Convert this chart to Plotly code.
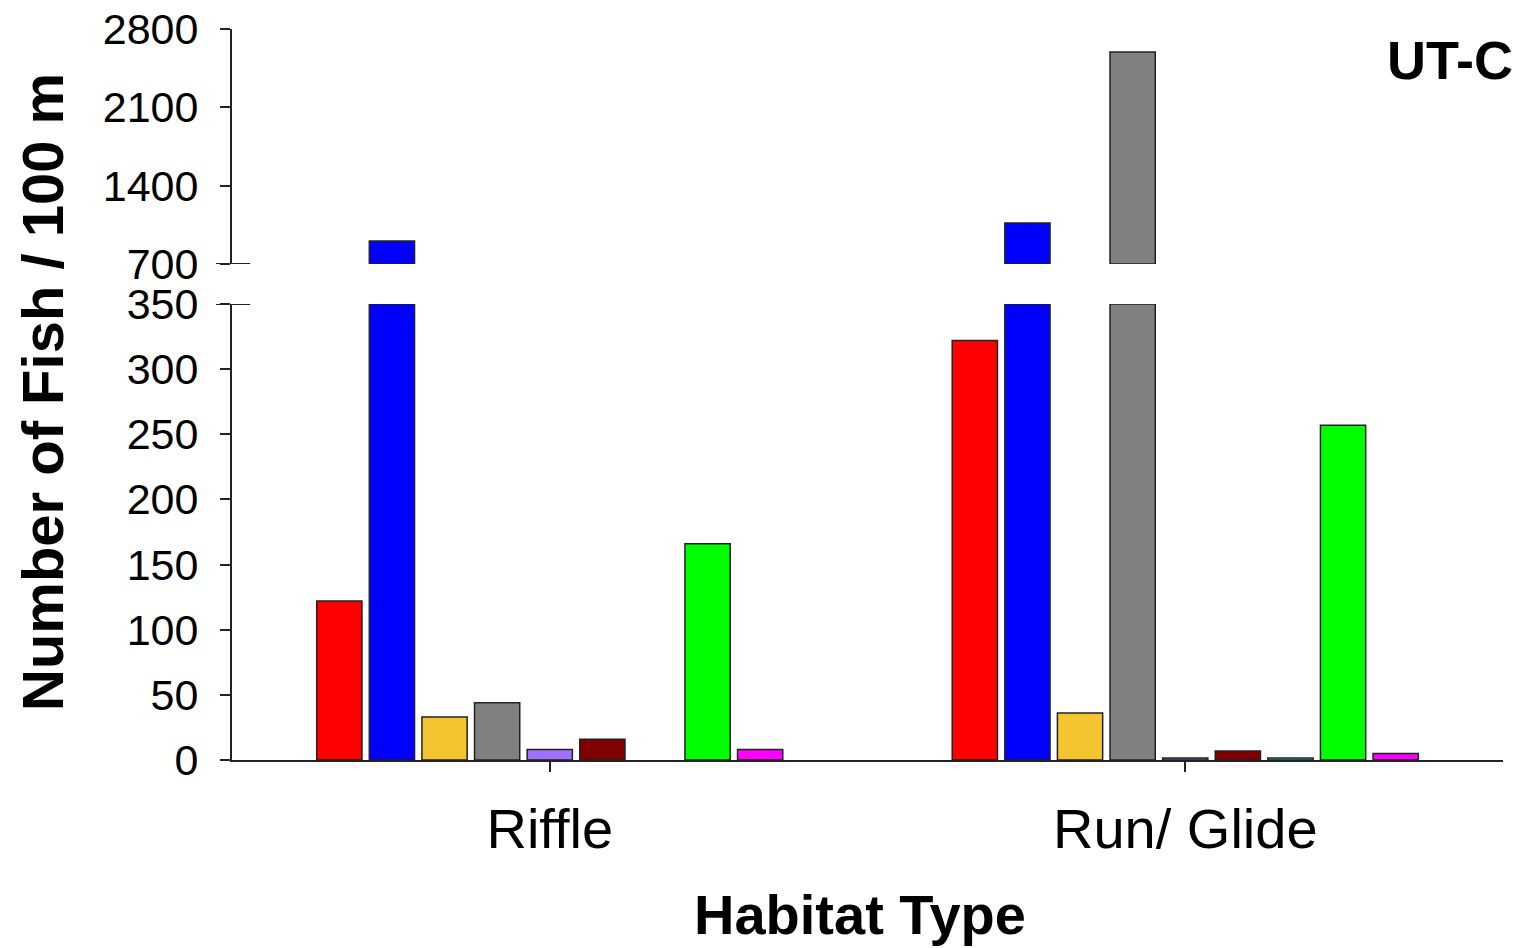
import plotly.graph_objects as go

categories = ["Riffle", "Run/ Glide"]

series_names = ["Species A", "Species B", "Species C", "Species D", "Species E",
                "Species F", "Species G", "Species H", "Species I"]
series_colors = ["#FF0000", "#0000FF", "#F5C431", "#808080", "#A070FF",
                 "#800000", "#00FFFF", "#00FF00", "#FF00FF"]

species_a = [122, 322]
species_b = [905, 1067]
species_c = [33, 36]
species_d = [44, 2595]
species_e = [8, 1.5]
species_f = [16, 7]
species_g = [None, 1.5]
species_h = [166, 257]
species_i = [8, 5]

all_values = [species_a, species_b, species_c, species_d, species_e,
              species_f, species_g, species_h, species_i]

lower_ticks = [0, 50, 100, 150, 200, 250, 300, 350]
upper_ticks = [700, 1400, 2100, 2800]
low_max = 350
up_min = 700
up_max = 2800

FONT = "Liberation Sans, Arial, sans-serif"
LINE = "#222222"

fig = go.Figure()
for name, color, vals in zip(series_names, series_colors, all_values):
    low = [None if v is None else min(v, low_max) for v in vals]
    fig.add_trace(go.Bar(
        x=categories, y=low, name=name, marker_color=color,
        marker_line=dict(color=LINE, width=1.5),
        xaxis="x", yaxis="y", showlegend=False, offsetgroup=name))
for name, color, vals in zip(series_names, series_colors, all_values):
    up = [None if (v is None or v <= up_min) else v - up_min for v in vals]
    fig.add_trace(go.Bar(
        x=categories, y=up, base=up_min, name=name, marker_color=color,
        marker_line=dict(color=LINE, width=1.5),
        xaxis="x", yaxis="y2", showlegend=False, offsetgroup=name))

W, H = 1519, 948
L, R, T, B = 232, 16, 29, 188
pw = W - L - R
ph = H - T - B
low_top_px = 304
up_bot_px = 264
low_dom = (760 - low_top_px) / ph
up_dom = (760 - up_bot_px) / ph

tickfont = dict(family=FONT, size=43, color="black")

fig.update_layout(
    width=W, height=H,
    margin=dict(l=L, r=R, t=T, b=B, autoexpand=False),
    paper_bgcolor="white", plot_bgcolor="white",
    barmode="group", bargap=0.255, bargroupgap=0.14,
    font=dict(family=FONT, color="black"),
    xaxis=dict(
        range=[-0.5, 1.5], showline=True, linecolor=LINE, linewidth=2,
        ticks="outside", ticklen=10, tickwidth=2, tickcolor=LINE,
        tickfont=dict(family=FONT, size=56, color="black"),
        showgrid=False, zeroline=False, anchor="y", ticklabelstandoff=9,
        automargin=False,
    ),
    yaxis=dict(
        domain=[0, low_dom], range=[0, low_max], tickvals=lower_ticks,
        showline=True, linecolor=LINE, linewidth=2,
        ticks="outside", ticklen=10, tickwidth=2, tickcolor=LINE,
        tickfont=tickfont, showgrid=False, zeroline=False, anchor="x",
        ticklabelstandoff=13, automargin=False,
    ),
    yaxis2=dict(
        domain=[up_dom, 1], range=[up_min, up_max], tickvals=upper_ticks,
        showline=True, linecolor=LINE, linewidth=2,
        ticks="outside", ticklen=10, tickwidth=2, tickcolor=LINE,
        tickfont=tickfont, showgrid=False, zeroline=False, anchor="x",
        ticklabelstandoff=13, automargin=False,
    ),
)

bx0 = (216 - L) / pw
bx1 = (250 - L) / pw
fig.add_shape(type="line", xref="paper", yref="y2", x0=bx0, x1=bx1,
              y0=up_min, y1=up_min, line=dict(color=LINE, width=2))
fig.add_shape(type="line", xref="paper", yref="y", x0=bx0, x1=bx1,
              y0=low_max, y1=low_max, line=dict(color=LINE, width=2))

fig.add_annotation(text="<b>Number of Fish / 100 m</b>", xref="paper", yref="paper",
                   x=(42 - L) / pw, y=(760 - 392) / ph, textangle=-90,
                   showarrow=False, xanchor="center", yanchor="middle",
                   font=dict(family=FONT, size=58, color="black"))
fig.add_annotation(text="<b>Habitat Type</b>", xref="paper", yref="paper",
                   x=(860 - L) / pw, y=(760 - 914) / ph,
                   showarrow=False, xanchor="center", yanchor="middle",
                   font=dict(family=FONT, size=56, color="black"))
fig.add_annotation(text="<b>UT-C</b>", xref="paper", yref="paper",
                   x=(1450 - L) / pw, y=(760 - 60) / ph,
                   showarrow=False, xanchor="center", yanchor="middle",
                   font=dict(family=FONT, size=54, color="black"))

fig.write_html("out.html")
